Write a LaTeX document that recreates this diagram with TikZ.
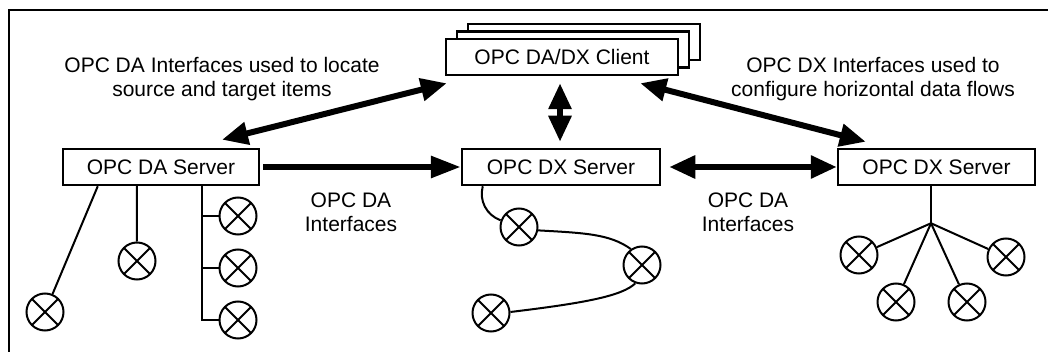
\documentclass[tikz,border=0pt]{standalone}
\usepackage{fontspec}
\setmainfont{Liberation Sans}
\usetikzlibrary{arrows.meta}
\begin{document}
\begin{tikzpicture}[x=1pt,y=1pt,
  box/.style={draw, line width=2.5pt, fill=white, minimum height=36pt, inner sep=0pt, font=\fontsize{21}{24}\selectfont},
  lamp/.style={draw, circle, line width=2pt, minimum size=37pt, inner sep=0pt,
    path picture={\draw[line width=2pt] (path picture bounding box.north west) -- (path picture bounding box.south east)
      (path picture bounding box.north east) -- (path picture bounding box.south west);}},
  wire/.style={line width=2pt},
  bigarrow/.style={line width=6pt, {Triangle[length=26pt,width=22pt]}-{Triangle[length=26pt,width=22pt]}},
  onearrow/.style={line width=6pt, -{Triangle[length=30pt,width=21pt]}},
  lbl/.style={font=\fontsize{21}{24}\selectfont, align=center, inner sep=0pt}
]
\clip (0,0) rectangle (1048,-352);
\draw[line width=2pt] (9,-370) |- (1070,-10);

% client stack
\node[box, minimum width=232pt] (client3) at (584,-42) {};
\node[box, minimum width=232pt] (client2) at (573,-49.5) {};
\node[box, minimum width=232pt] (client) at (562,-57) {OPC DA/DX Client};

% servers
\node[box, minimum width=196pt] (dasrv) at (161,-167) {OPC DA Server};
\node[box, minimum width=198pt] (dxm) at (561,-167) {OPC DX Server};
\node[box, minimum width=197pt] (dxr) at (936.5,-167) {OPC DX Server};

% labels
\node[lbl, anchor=north] (lt) at (222,-57) {OPC DA Interfaces used to locate\\source and target items};
\node[lbl, anchor=north] (rt) at (873,-57) {OPC DX Interfaces used to\\configure horizontal data flows};
\node[lbl, anchor=north] (ml) at (351,-193) {OPC DA\\Interfaces};
\node[lbl, anchor=north] (mr) at (748,-193) {OPC DA\\Interfaces};

% arrow end points
\coordinate (a1s) at ([shift={(2,-7)}]client.south west);
\coordinate (a1e) at ([shift={(61,8)}]dasrv.north);
\coordinate (a2s) at ([shift={(-39,-7)}]client.south east);
\coordinate (a2e) at ([shift={(29,6)}]dxr.north west);
\coordinate (a3s) at ([shift={(-2,-7)}]client.south);
\coordinate (a3e) at ([shift={(-1,6)}]dxm.north);
\coordinate (a4s) at ([xshift=3pt]dasrv.east);
\coordinate (a5s) at ([xshift=8pt]dxm.east);

\draw[bigarrow] (a1s) -- (a1e);
\draw[bigarrow] (a2s) -- (a2e);
\draw[bigarrow] (a3s) -- (a3e);
\draw[onearrow] (a4s) -- (dxm.west);
\draw[bigarrow] (a5s) -- (dxr.west);

% DA server items
\node[lamp] (l1) at (45,-312) {};
\node[lamp] (l2) at (137,-261) {};
\node[lamp] (l3) at (238,-216) {};
\node[lamp] (l4) at (238,-268) {};
\node[lamp] (l5) at (238,-320) {};
\coordinate (t1) at ([xshift=36pt]dasrv.south west);
\coordinate (t2) at ([xshift=75pt]dasrv.south west);
\coordinate (bus) at ([xshift=140pt]dasrv.south west);
\draw[wire] (t1) -- (l1);
\draw[wire] (t2) -- (l2);
\draw[wire] (bus) |- (l5);
\draw[wire] (bus |- l3) -- (l3);
\draw[wire] (bus |- l4) -- (l4);

% middle DX items
\node[lamp] (m1) at (519,-227) {};
\node[lamp] (m2) at (642,-265) {};
\node[lamp] (m3) at (491,-313) {};
\coordinate (t3) at ([xshift=22pt]dxm.south west);
\draw[wire] (t3) to[out=-105,in=160] (m1);
\draw[wire] (m1.-10) .. controls (585,-233) and (610,-234) .. (m2.125);
\draw[wire] (m2.-110) .. controls (622,-296) and (585,-303) .. (m3.3);

% right DX items
\node[lamp] (r1) at (859,-255) {};
\node[lamp] (r2) at (896,-302) {};
\node[lamp] (r3) at (967,-302) {};
\node[lamp] (r4) at (1006,-257) {};
\coordinate (t4) at ([xshift=-5.5pt]dxr.south);
\coordinate (hub) at ([yshift=-37pt]t4);
\draw[wire] (t4) -- (hub);
\draw[wire] (hub) -- (r1);
\draw[wire] (hub) -- (r2);
\draw[wire] (hub) -- (r3);
\draw[wire] (hub) -- (r4);
\end{tikzpicture}
\end{document}
